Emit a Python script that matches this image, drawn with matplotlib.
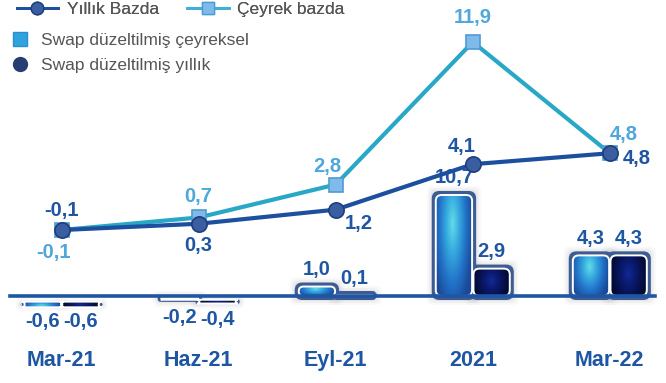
import matplotlib.pyplot as plt
import numpy as np
from matplotlib.patches import FancyBboxPatch
from matplotlib.lines import Line2D
from matplotlib.colors import LinearSegmentedColormap

plt.rcParams['font.family'] = ['Liberation Sans', 'DejaVu Sans']

# data
periods = ['Mar-21', 'Haz-21', 'Eyl-21', '2021', 'Mar-22']
yillik = [-0.1, 0.3, 1.2, 4.1, 4.8]
ceyrek = [-0.1, 0.7, 2.8, 11.9, 4.8]
swap_ceyrek = [-0.6, -0.2, 1.0, 10.7, 4.3]
swap_yillik = [-0.6, -0.4, 0.1, 2.9, 4.3]

DARK = '#1f56a3'
LIGHT = '#4fa7dc'
GREY = '#555555'

# label offsets in pixels (dx, dy)
yillik_off = [(0, 20), (0, -22), (23, -14), (-11, 18), (27, -5)]
ceyrek_off = [(-8, -22), (0, 21), (-8, 18), (0, 24), (14, 19)]

fig = plt.figure(figsize=(6.66, 3.83), dpi=100)
ax = fig.add_axes([0, 0, 1, 1])
ax.axis('off')

x = np.arange(len(periods))
w = 0.265
XLIM = (-0.45, 4.41)
YLIM = (-9.22, 31.36)
px_x = 666 / (XLIM[1] - XLIM[0])
px_y = 383 / (YLIM[1] - YLIM[0])
aspect = px_x / px_y

cmap_light = LinearSegmentedColormap.from_list(
    'l', ['#63dcea', '#35a8de', '#2272c8', '#1b4a98'])
cmap_dark = LinearSegmentedColormap.from_list(
    'd', ['#132a95', '#0b1a70', '#06104a', '#030824'])


def shade(cx, cy):
    yy, xx = np.mgrid[0:1:120j, 0:1:60j]
    return np.clip(np.sqrt(((xx - cx) / 0.55) ** 2 + ((yy - cy) / 0.9) ** 2), 0, 1)


def rbox(x0, y0, bw, bh, grow_px=0):
    # rounded box in data coords; corner radius limited by the box size
    gx, gy = grow_px / px_x, grow_px / px_y
    x0, y0, bw, bh = x0 - gx, y0 - gy, bw + 2 * gx, bh + 2 * gy
    r = min(6 / px_x, bw / 2, bh / aspect / 2)
    return dict(xy=(x0, y0), width=bw, height=bh,
                boxstyle=f'round,pad=0,rounding_size={r}', mutation_aspect=aspect)


def rounded_bars(bars, cmap, cx, cy):
    for b in bars:
        bb = b.get_bbox()
        x0, y0, bw, bh = bb.xmin, bb.ymin, bb.width, bb.height
        # soft halo
        for k, a in [(9, 0.04), (7, 0.06), (5, 0.08)]:
            ax.add_patch(FancyBboxPatch(**rbox(x0, y0, bw, bh, k), fc='#6a6f7a',
                                        ec='none', alpha=a, zorder=1))
        ax.add_patch(FancyBboxPatch(**rbox(x0, y0, bw, bh, 2.5), fc='#3d5d92',
                                    ec='#3d5d92', lw=2.2, zorder=2))
        inner = FancyBboxPatch(**rbox(x0, y0, bw, bh), fc='none', ec='white',
                               lw=1.4, zorder=4)
        ax.add_patch(inner)
        im = ax.imshow(shade(cx, cy), cmap=cmap, vmin=0, vmax=1, origin='lower',
                       extent=(x0, x0 + bw, y0, y0 + bh), aspect='auto', zorder=3)
        im.set_clip_path(inner)
        b.set_visible(False)


bars_c = ax.bar(x - w / 2 - 0.005, swap_ceyrek, w, color='none')
bars_y = ax.bar(x + w / 2 + 0.005, swap_yillik, w, color='none')
rounded_bars(bars_c, cmap_light, 0.45, 0.72)
rounded_bars(bars_y, cmap_dark, 0.5, 0.55)

for bars, vals in [(bars_c, swap_ceyrek), (bars_y, swap_yillik)]:
    for b, v in zip(bars, vals):
        cxb = b.get_x() + b.get_width() / 2
        dy = 17 if v >= 0 else -20
        ax.annotate(f'{v:.1f}'.replace('.', ','), (cxb, v), xytext=(0, dy),
                    textcoords='offset pixels', ha='center', va='center',
                    fontsize=14.5, fontweight='bold', color=DARK, zorder=6)

ax.axhline(0, xmin=0.015, xmax=0.983, color=DARK, lw=2.6, zorder=5)

for xi, lab in zip(x, periods):
    ax.text(xi, -6.8, lab, ha='center', va='center', fontsize=15.5,
            fontweight='bold', color=DARK)

ax.set_xlim(*XLIM)
ax.set_ylim(*YLIM)

# lines on their own scale
ax2 = fig.add_axes([0, 0, 1, 1])
ax2.axis('off')
ax2.patch.set_alpha(0)
ax2.plot(x, ceyrek, color='#28a8c6', lw=3, marker='s', ms=10,
         mfc='#7fbbe8', mec='#4f9ad4', mew=1.2, zorder=3)
ax2.plot(x, yillik, color='#1d4f9f', lw=3, marker='o', ms=11,
         mfc='#3a5ea0', mec='#1d3f80', mew=1.2, zorder=4)
for xi, v, (dx, dy) in zip(x, ceyrek, ceyrek_off):
    ax2.annotate(f'{v:.1f}'.replace('.', ','), (xi, v), xytext=(dx, dy),
                 textcoords='offset pixels', ha='center', va='center',
                 fontsize=14.5, fontweight='bold', color=LIGHT)
for xi, v, (dx, dy) in zip(x, yillik, yillik_off):
    ax2.annotate(f'{v:.1f}'.replace('.', ','), (xi, v), xytext=(dx, dy),
                 textcoords='offset pixels', ha='center', va='center',
                 fontsize=14.5, fontweight='bold', color=DARK)
ax2.set_xlim(*XLIM)
ax2.set_ylim(-9.864, 14.58)

# legend
h_line = [Line2D([], [], color='#1d4f9f', lw=2, marker='o', ms=9, mfc='#3a5ea0', mec='#1d3f80'),
          Line2D([], [], color='#3fb0d8', lw=2, marker='s', ms=9, mfc='#7fbbe8', mec='#4f9ad4')]
leg1 = fig.legend(h_line, ['Yıllık Bazda', 'Çeyrek bazda'], loc='upper left',
                  bbox_to_anchor=(0.025, 0.995), ncol=2, frameon=False, fontsize=12.5,
                  labelcolor=GREY, handlelength=2.4, columnspacing=1.6,
                  handletextpad=0.5, borderaxespad=0, borderpad=0)
h_bar = [Line2D([], [], ls='none', marker='s', ms=10, mfc='#2fa3dc', mec='#2a8fd0'),
         Line2D([], [], ls='none', marker='o', ms=10, mfc='#283e72', mec='#283e72')]
fig.legend(h_bar, ['Swap düzeltilmiş çeyreksel', 'Swap düzeltilmiş yıllık'],
           loc='upper left', bbox_to_anchor=(0.015, 0.915), frameon=False, fontsize=12.5,
           labelcolor=GREY, handlelength=1.2, handletextpad=0.6, labelspacing=0.6,
           borderaxespad=0, borderpad=0)
fig.add_artist(leg1)

fig.savefig('out.png', dpi=100)
